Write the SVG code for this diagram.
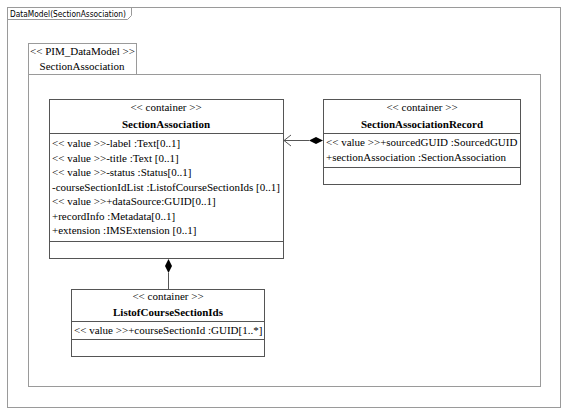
<svg xmlns="http://www.w3.org/2000/svg" width="568" height="415" viewBox="0 0 568 415">
<defs>
<style>
.frame{fill:none;stroke:#9a9a9a;stroke-width:1}
.box{fill:#fff;stroke:#555;stroke-width:1}
.ln{fill:none;stroke:#555;stroke-width:1}
.t{font-family:"Liberation Serif","Times New Roman",serif;font-size:11px;fill:#000}
.c{text-anchor:middle}
.b{font-weight:bold;font-size:11px}
.f{font-family:"DejaVu Sans","Liberation Sans",sans-serif;font-size:9.5px;fill:#000}
</style>
</defs>
<rect width="568" height="415" fill="#fff"/>
<g id="frame">
<rect class="frame" x="7.5" y="7.5" width="553" height="400"/>
<path class="frame" d="M7.5 19.5 H127.5 L131.5 15.5 V7.5"/>
<text class="f" x="10" y="17" textLength="116" lengthAdjust="spacingAndGlyphs">DataModel(SectionAssociation)</text>
</g>
<g id="package">
<rect class="frame" x="28.5" y="43.5" width="108" height="31"/>
<rect class="frame" x="28.5" y="74.5" width="512" height="312"/>
<text class="t" x="30" y="55">&lt;&lt; PIM_DataModel &gt;&gt;</text>
<text class="t c" x="82" y="70">SectionAssociation</text>
</g>
<g id="connectors">
<line class="ln" x1="283.5" y1="140.5" x2="309" y2="140.5"/>
<path class="ln" d="M291 135 L284 140.5 L291 146"/>
<path d="M309 140.5 L316 137 L323 140.5 L316 144 Z" fill="#000"/>
<line class="ln" x1="168.5" y1="273" x2="168.5" y2="289"/>
<path d="M168.5 259 L172 266 L168.5 273 L165 266 Z" fill="#000"/>
</g>
<g id="SectionAssociation">
<rect class="box" x="49.5" y="99.5" width="234" height="159"/>
<line class="ln" x1="49.5" y1="133.5" x2="283.5" y2="133.5"/>
<line class="ln" x1="49.5" y1="241.5" x2="283.5" y2="241.5"/>
<text class="t c" x="166" y="111">&lt;&lt; container &gt;&gt;</text>
<text class="t c b" x="166" y="128">SectionAssociation</text>
<text class="t" x="52" y="147">&lt;&lt; value &gt;&gt;-label :Text[0..1]</text>
<text class="t" x="52" y="161.5">&lt;&lt; value &gt;&gt;-title :Text [0..1]</text>
<text class="t" x="52" y="176">&lt;&lt; value &gt;&gt;-status :Status[0..1]</text>
<text class="t" x="52" y="190.5">-courseSectionIdList :ListofCourseSectionIds [0..1]</text>
<text class="t" x="52" y="205">&lt;&lt; value &gt;&gt;+dataSource:GUID[0..1]</text>
<text class="t" x="52" y="219.5">+recordInfo :Metadata[0..1]</text>
<text class="t" x="52" y="234">+extension :IMSExtension [0..1]</text>
</g>
<g id="SectionAssociationRecord">
<rect class="box" x="323.5" y="99.5" width="197" height="85"/>
<line class="ln" x1="323.5" y1="133.5" x2="520.5" y2="133.5"/>
<line class="ln" x1="323.5" y1="167.5" x2="520.5" y2="167.5"/>
<text class="t c" x="422" y="111">&lt;&lt; container &gt;&gt;</text>
<text class="t c b" x="422" y="128">SectionAssociationRecord</text>
<text class="t" x="326" y="146">&lt;&lt; value &gt;&gt;+sourcedGUID :SourcedGUID</text>
<text class="t" x="326" y="161">+sectionAssociation  :SectionAssociation</text>
</g>
<g id="ListofCourseSectionIds">
<rect class="box" x="71.5" y="289.5" width="193" height="67"/>
<line class="ln" x1="71.5" y1="321.5" x2="264.5" y2="321.5"/>
<line class="ln" x1="71.5" y1="339.5" x2="264.5" y2="339.5"/>
<text class="t c" x="168" y="300">&lt;&lt; container &gt;&gt;</text>
<text class="t c b" x="168" y="316">ListofCourseSectionIds</text>
<text class="t" x="74" y="334">&lt;&lt; value &gt;&gt;+courseSectionId :GUID[1..*]</text>
</g>
</svg>
